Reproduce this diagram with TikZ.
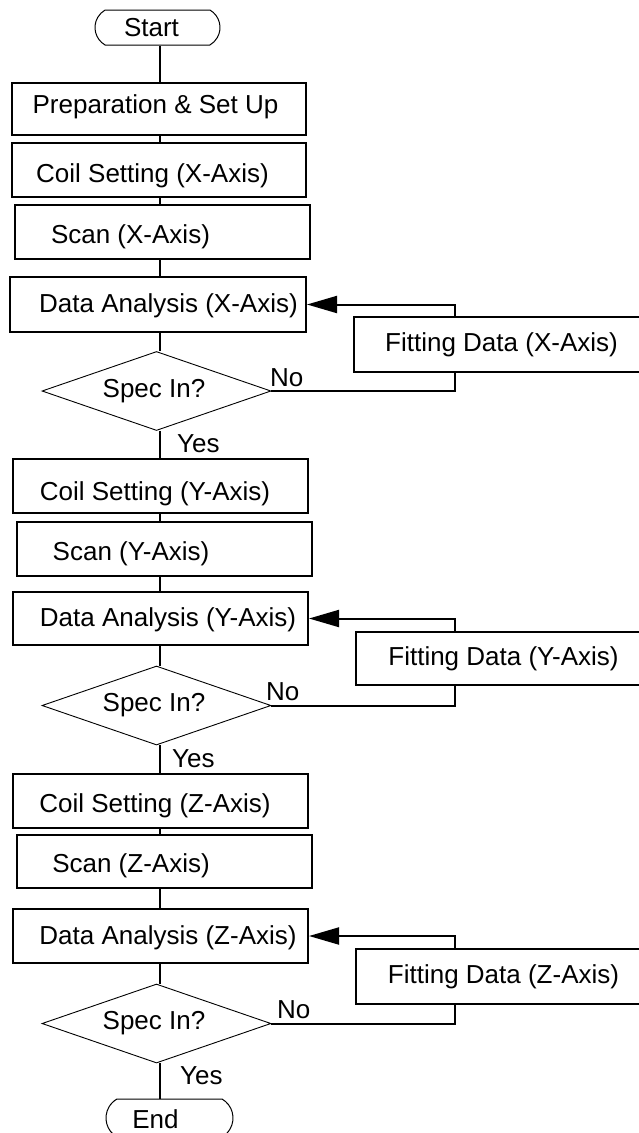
\documentclass[tikz,border=0pt]{standalone}
\usepackage{fontspec}
\setmainfont{Liberation Sans}
\usetikzlibrary{arrows.meta,shapes.geometric,shapes.misc}
\newcommand{\tshift}[3]{\makebox[0pt]{\hspace*{#1}\raisebox{#2}{#3}}}
\begin{document}
\begin{tikzpicture}[x=1pt,y=-1pt,
  every node/.style={font=\fontsize{26}{30}\selectfont, inner sep=0pt, text height=18.6pt, text depth=0pt},
  box/.style={draw, line width=2pt, rectangle},
  term/.style={draw, line width=1pt, rounded rectangle, rounded rectangle arc length=120},
  dec/.style={draw, line width=0.9pt, diamond},
  conn/.style={line width=2pt},
  lbl/.style={anchor=base west},
  tip/.style={-{Triangle[length=30pt,width=17pt]}}]
\clip (0,0) rectangle (639,1133);
\coordinate (spine) at (160,0);
\coordinate (loop) at (454.5,0);
% X section
\node[term, minimum width=125pt, minimum height=35pt] (start) at (157.5,27.5) {\tshift{-12pt}{0pt}{Start}};
\node[box, minimum width=294pt, minimum height=52pt] (prep) at (159,109) {\tshift{-7pt}{5pt}{Preparation \& Set Up}};
\node[box, minimum width=294pt, minimum height=54pt] (coilx) at (159,170) {\tshift{-13pt}{-3pt}{Coil Setting (X-Axis)}};
\node[box, minimum width=295pt, minimum height=54pt] (scanx) at (162.5,232) {\tshift{-64pt}{-2pt}{Scan (X-Axis)}};
\node[box, minimum width=296pt, minimum height=55pt] (datax) at (158,304.5) {\tshift{21pt}{1.5pt}{Data Analysis (X-Axis)}};
\node[box, minimum width=291pt, minimum height=55pt] (fitx) at (499.5,344.5) {\tshift{4pt}{2pt}{Fitting Data (X-Axis)}};
\node[dec, minimum width=229pt, minimum height=79pt] (diax) at (156.5,391) {\tshift{-5pt}{3pt}{Spec In?}};
\node[lbl] (nox) at (270,386) {No};
\node[lbl] (yesx) at (177,452) {Yes};
% Y section
\node[box, minimum width=295pt, minimum height=54pt] (coily) at (160.5,486) {\tshift{-11pt}{-5pt}{Coil Setting (Y-Axis)}};
\node[box, minimum width=295pt, minimum height=54pt] (scany) at (164.5,549) {\tshift{-67pt}{-2.5pt}{Scan (Y-Axis)}};
\node[box, minimum width=295pt, minimum height=53pt] (datay) at (160.5,618.5) {\tshift{15pt}{1pt}{Data Analysis (Y-Axis)}};
\node[box, minimum width=289pt, minimum height=53pt] (fity) at (500.5,658.5) {\tshift{6pt}{2pt}{Fitting Data (Y-Axis)}};
\node[dec, minimum width=229pt, minimum height=79pt] (diay) at (156.5,705.5) {\tshift{-5pt}{3pt}{Spec In?}};
\node[lbl] (noy) at (266,700) {No};
\node[lbl] (yesy) at (172,767) {Yes};
% Z section
\node[box, minimum width=295pt, minimum height=54pt] (coilz) at (160.5,801) {\tshift{-11pt}{-2pt}{Coil Setting (Z-Axis)}};
\node[box, minimum width=295pt, minimum height=53pt] (scanz) at (164.5,861) {\tshift{-67pt}{-2pt}{Scan (Z-Axis)}};
\node[box, minimum width=295pt, minimum height=54pt] (dataz) at (160.5,936) {\tshift{15pt}{1pt}{Data Analysis (Z-Axis)}};
\node[box, minimum width=289pt, minimum height=55pt] (fitz) at (500.5,976.5) {\tshift{6pt}{2pt}{Fitting Data (Z-Axis)}};
\node[dec, minimum width=229pt, minimum height=79pt] (diaz) at (156.5,1023.5) {\tshift{-5pt}{3pt}{Spec In?}};
\node[lbl] (noz) at (277,1018) {No};
\node[lbl] (yesz) at (180,1084) {Yes};
\node[term, minimum width=127pt, minimum height=38pt] (end) at (169.5,1118) {\tshift{-28pt}{-1pt}{End}};
% spine connectors
\draw[conn] (start.south -| spine) -- (prep.north -| spine);
\draw[conn] (prep.south -| spine) -- (coilx.north -| spine);
\draw[conn] (coilx.south -| spine) -- (scanx.north -| spine);
\draw[conn] (scanx.south -| spine) -- (datax.north -| spine);
\draw[conn] (datax.south -| spine) -- (diax.north -| spine);
\draw[conn] (diax.south -| spine) -- (coily.north -| spine);
\draw[conn] (coily.south -| spine) -- (scany.north -| spine);
\draw[conn] (scany.south -| spine) -- (datay.north -| spine);
\draw[conn] (datay.south -| spine) -- (diay.north -| spine);
\draw[conn] (diay.south -| spine) -- (coilz.north -| spine);
\draw[conn] (coilz.south -| spine) -- (scanz.north -| spine);
\draw[conn] (scanz.south -| spine) -- (dataz.north -| spine);
\draw[conn] (dataz.south -| spine) -- (diaz.north -| spine);
\draw[conn] (diaz.south -| spine) -- (end.north -| spine);
% loops
\draw[conn] (diax.east) -- (diax.east -| loop) -- (fitx.south -| loop);
\draw[conn, tip] (fitx.north -| loop) |- (datax.east);
\draw[conn] (diay.east) -- (diay.east -| loop) -- (fity.south -| loop);
\draw[conn, tip] (fity.north -| loop) |- (datay.east);
\draw[conn] (diaz.east) -- (diaz.east -| loop) -- (fitz.south -| loop);
\draw[conn, tip] (fitz.north -| loop) |- (dataz.east);
\end{tikzpicture}
\end{document}
